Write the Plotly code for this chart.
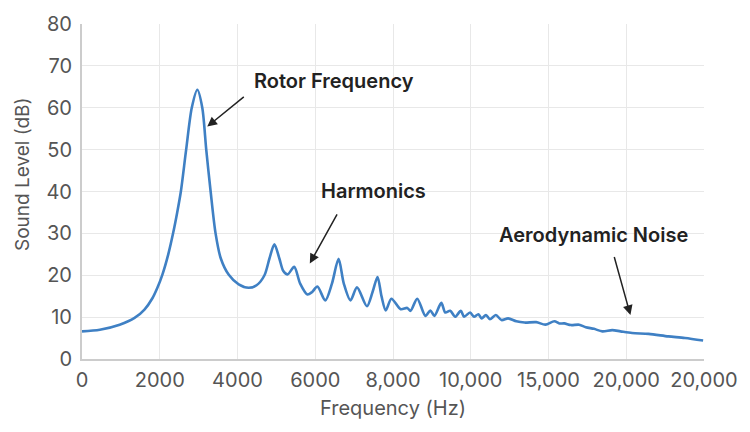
import plotly.graph_objects as go

# Axis position units (each grid step = 2000 units), tick labels as printed on chart
tick_vals = [0, 2000, 4000, 6000, 8000, 10000, 12000, 14000, 16000]
tick_text = ["0", "2000", "4000", "6000", "8,000", "10,000", "15,000", "20,000", "20,000"]
y_ticks = [0, 10, 20, 30, 40, 50, 60, 70, 80]

freq = [0, 459, 969, 1352, 1607, 1811, 1939, 2066, 2219, 2347, 2449, 2543, 2679, 2824, 2967,
        3094, 3196, 3309, 3436, 3571, 3776, 4031, 4286, 4490, 4694, 4822, 4949, 5077, 5179,
        5289, 5459, 5612, 5799, 5919, 6054, 6258, 6429, 6600, 6735, 6906, 7074, 7329, 7474,
        7602, 7704, 7814, 7959, 8197, 8367, 8452, 8623, 8834, 8962, 9064, 9243, 9345, 9472,
        9600, 9745, 9829, 9982, 10084, 10196, 10281, 10391, 10493, 10645, 10791, 10962, 11173,
        11385, 11684, 11921, 12151, 12278, 12406, 12577, 12789, 12960, 13171, 13385, 13640,
        13852, 14151, 14574, 15084, 15510, 15977]
level = [6.6, 7.0, 8.2, 9.8, 11.8, 14.5, 17.0, 20.1, 25.0, 30.2, 35.0, 40.0, 50.0, 60.0, 64.3,
         60.0, 50.0, 40.0, 30.0, 24.0, 20.1, 17.8, 17.0, 17.6, 20.0, 24.0, 27.4, 24.0, 21.0,
         20.2, 22.0, 18.0, 15.4, 16.0, 17.3, 14.0, 18.0, 23.9, 18.0, 14.0, 17.1, 12.6, 16.0,
         19.6, 15.0, 11.6, 14.4, 11.9, 12.2, 11.5, 14.4, 10.3, 11.6, 10.3, 13.4, 11.1, 11.5,
         10.1, 11.5, 10.1, 11.1, 10.1, 10.7, 9.7, 10.5, 9.5, 10.5, 9.3, 9.7, 9.0,
         8.7, 8.8, 8.2, 9.0, 8.5, 8.5, 8.1, 8.2, 7.6, 7.2, 6.6, 6.9,
         6.6, 6.2, 6.0, 5.4, 5.0, 4.4]

labels = ["Rotor Frequency", "Harmonics", "Aerodynamic Noise"]
label_x = [6492, 7500, 13163]
label_y = [66.4, 40.1, 29.6]
arrow_head_x = [3222, 5860, 14107]
arrow_head_y = [55.5, 22.8, 10.5]
arrow_tail_x = [4201, 6582, 13681]
arrow_tail_y = [62.9, 34.9, 24.7]

FONT = "Inter"

fig = go.Figure()
fig.add_trace(go.Scatter(x=freq, y=level, mode="lines",
                         line=dict(color="#3f80c4", width=2.6, shape="spline", smoothing=0.8),
                         hoverinfo="skip", showlegend=False))

for i, t in enumerate(labels):
    fig.add_annotation(x=label_x[i], y=label_y[i], text=t, showarrow=False,
                       font=dict(family=FONT, size=20, color="#222222", weight=600),
                       xref="x", yref="y")
    fig.add_annotation(x=arrow_head_x[i], y=arrow_head_y[i], ax=arrow_tail_x[i], ay=arrow_tail_y[i],
                       xref="x", yref="y", axref="x", ayref="y", text="", showarrow=True,
                       arrowhead=2, arrowsize=1.3, arrowwidth=1.5, arrowcolor="#222222")

# y-axis title (placed slightly above centre, as in the original)
fig.add_annotation(x=-0.096, y=0.553, xref="paper", yref="paper", text="Sound Level (dB)",
                   textangle=-90, showarrow=False, xanchor="center", yanchor="middle",
                   font=dict(family=FONT, size=19, color="#555555"))

fig.update_layout(
    width=750, height=432,
    margin=dict(l=82, r=41, t=17, b=73),
    paper_bgcolor="white", plot_bgcolor="white",
    font=dict(family=FONT, color="#555555"),
    xaxis=dict(range=[0, 16000], tickvals=tick_vals, ticktext=tick_text,
               tickfont=dict(size=20, color="#555555"),
               title=dict(text="Frequency (Hz)", font=dict(size=20, color="#555555"), standoff=10),
               showgrid=True, gridcolor="#e8e8e8", gridwidth=1,
               showline=True, linecolor="#cccccc", linewidth=2, zeroline=False, ticks="",
               ticklabelstandoff=2),
    yaxis=dict(range=[0, 80], tickvals=y_ticks,
               tickfont=dict(size=20, color="#555555"),
               showgrid=True, gridcolor="#e8e8e8", gridwidth=1,
               showline=True, linecolor="#cccccc", linewidth=2, zeroline=False, ticks="",
               ticklabelstandoff=4),
)

fig.write_html("out.html")
